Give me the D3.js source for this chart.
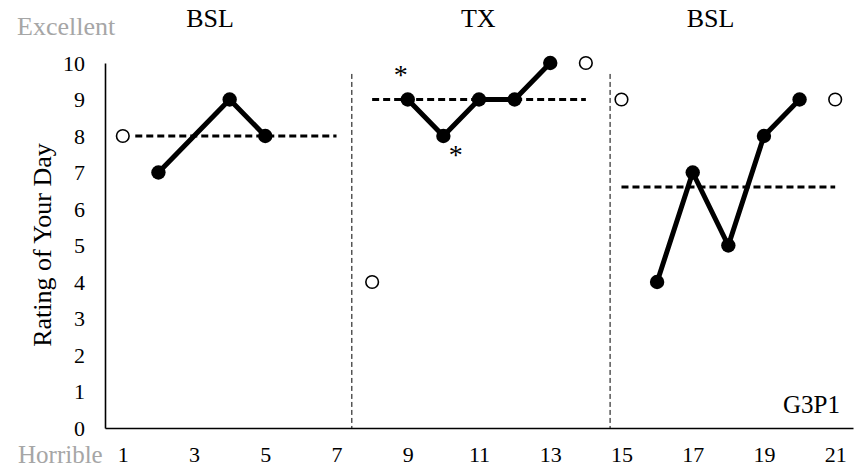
<!DOCTYPE html>
<html>
<head>
<meta charset="utf-8">
<script src="https://cdn.jsdelivr.net/npm/d3@7/dist/d3.min.js"></script>
<style>
  html, body { margin: 0; padding: 0; background: #fff; }
  svg { display: block; }
  svg text { font-family: "Liberation Serif", "Times New Roman", "DejaVu Serif", serif; }
</style>
</head>
<body>
<svg id="chart" width="867" height="473"></svg>
<script>
// Session ratings per phase (filled = rated session, open = probe)
const bsl1Sessions = [2, 4, 5];
const bsl1Ratings  = [7, 9, 8];
const txSessions   = [9, 10, 11, 12, 13];
const txRatings    = [9, 8, 9, 9, 10];
const bsl2Sessions = [16, 17, 18, 19, 20];
const bsl2Ratings  = [4, 7, 5, 8, 9];

const probeSessions = [1, 8, 14, 15, 21];
const probeRatings  = [8, 4, 10, 9, 9];

// Phase means: [start session, end session, mean rating]
const phaseMeans = [
  [1.35, 7.0, 8],
  [8, 14, 9],
  [15, 21, 6.6]
];
const phaseChanges = [7.43, 14.68];
const phaseLabels = ["BSL", "TX", "BSL"];
const phaseLabelAt = [3.45, 10.98, 17.5];
// Asterisk marks beside sessions 9 and 10 (text baseline position)
const asteriskSessions = [8.8, 10.35];
const asteriskRatings  = [9.42, 7.22];

const xTicks = [1, 3, 5, 7, 9, 11, 13, 15, 17, 19, 21];
const yTicks = [0, 1, 2, 3, 4, 5, 6, 7, 8, 9, 10];

const FONT = "'Liberation Serif', 'Times New Roman', 'DejaVu Serif', serif";
const svg = d3.select("#chart");
const x = d3.scaleLinear().domain([0.5, 21.5]).range([105, 853]);
const y = d3.scaleLinear().domain([0, 10]).range([428, 63]);

// Axes
const yAxis = svg.append("g").attr("transform", `translate(${x(0.5)},0)`)
  .call(d3.axisLeft(y).tickValues(yTicks).tickSize(0).tickPadding(20).tickFormat(d3.format("d")));
const xAxis = svg.append("g").attr("transform", `translate(0,${y(0)})`)
  .call(d3.axisBottom(x).tickValues(xTicks).tickSize(0).tickPadding(18).tickFormat(d3.format("d")));
[yAxis, xAxis].forEach(g => {
  g.attr("font-family", FONT);
  g.select(".domain").attr("stroke", "#000").attr("stroke-width", 1.6);
  g.selectAll("text").attr("fill", "#000").style("font-size", "22px").style("font-family", FONT);
});

// Phase change lines
svg.selectAll(".phase").data(phaseChanges).enter().append("line")
  .attr("x1", d => x(d)).attr("x2", d => x(d))
  .attr("y1", y(9.7)).attr("y2", y(0))
  .attr("stroke", "#000").attr("stroke-width", 1).attr("stroke-dasharray", "5,3");

// Phase mean lines
svg.selectAll(".mean").data(phaseMeans).enter().append("line")
  .attr("x1", d => x(d[0])).attr("x2", d => x(d[1]))
  .attr("y1", d => y(d[2])).attr("y2", d => y(d[2]))
  .attr("stroke", "#000").attr("stroke-width", 3).attr("stroke-dasharray", "7,4");

// Data paths and points
const line = d3.line().x(d => x(d[0])).y(d => y(d[1]));
const phases = [
  d3.zip(bsl1Sessions, bsl1Ratings),
  d3.zip(txSessions, txRatings),
  d3.zip(bsl2Sessions, bsl2Ratings)
];
phases.forEach(pts => {
  svg.append("path").datum(pts).attr("d", line)
    .attr("fill", "none").attr("stroke", "#000").attr("stroke-width", 5)
    .attr("stroke-linejoin", "round");
  svg.selectAll(null).data(pts).enter().append("circle")
    .attr("cx", d => x(d[0])).attr("cy", d => y(d[1])).attr("r", 7.2).attr("fill", "#000");
});

svg.selectAll(".probe").data(d3.zip(probeSessions, probeRatings)).enter().append("circle")
  .attr("cx", d => x(d[0])).attr("cy", d => y(d[1])).attr("r", 6.3)
  .attr("fill", "#fff").attr("stroke", "#000").attr("stroke-width", 1.6);

// Asterisks
svg.selectAll(".ast").data(d3.zip(asteriskSessions, asteriskRatings)).enter().append("text")
  .attr("x", d => x(d[0])).attr("y", d => y(d[1]))
  .attr("text-anchor", "middle").style("font-size", "28px").text("*");

// Phase labels
svg.selectAll(".plabel").data(phaseLabels).enter().append("text")
  .attr("x", (d, i) => x(phaseLabelAt[i])).attr("y", 27)
  .attr("text-anchor", "middle").style("font-size", "26px").attr("fill", "#000").text(d => d);

// Anchors and axis title
svg.append("text").attr("x", 17).attr("y", 35).style("font-size", "26px")
  .attr("fill", "#a6a6a6").text("Excellent");
svg.append("text").attr("x", 18).attr("y", 463).style("font-size", "25px")
  .attr("fill", "#a6a6a6").text("Horrible");
svg.append("text").attr("transform", `translate(51,${(140 + 350) / 2}) rotate(-90)`)
  .attr("text-anchor", "middle").style("font-size", "26px").text("Rating of Your Day");
svg.append("text").attr("x", 840).attr("y", 413).attr("text-anchor", "end")
  .style("font-size", "25px").text("G3P1");
</script>
</body>
</html>
